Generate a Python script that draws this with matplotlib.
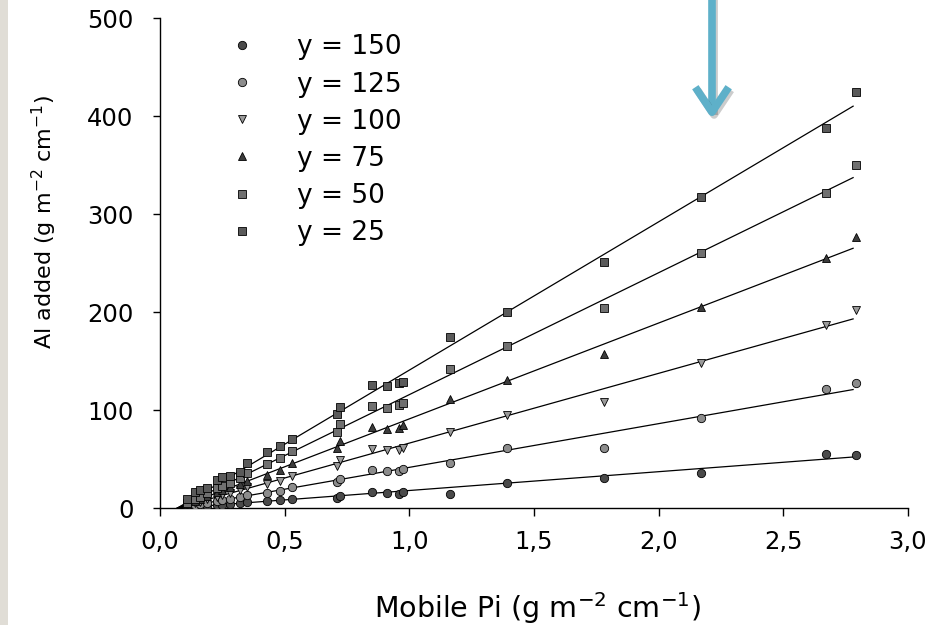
import numpy as np
import matplotlib
matplotlib.use("Agg")
import matplotlib.pyplot as plt
import matplotlib.patheffects as pe
from matplotlib.patches import Rectangle

plt.rcParams["font.family"] = ["DejaVu Sans"]
plt.rcParams["mathtext.default"] = "regular"

# Mobile Pi (g m-2 cm-1), shared by all series
mobile_pi = [0.11, 0.14, 0.16, 0.19, 0.23, 0.25, 0.28, 0.32, 0.35, 0.43, 0.48, 0.53,
             0.71, 0.72, 0.85, 0.91, 0.96, 0.975, 1.165, 1.39, 1.78, 2.17, 2.67, 2.79]

labels = ["y = 150", "y = 125", "y = 100", "y = 75", "y = 50", "y = 25"]

al_150 = [1, 1, 2, 2, 3, 3, 4, 5, 6, 7, 8, 9,
          10, 12, 16, 15, 14, 16, 14, 26, 31, 36, 55, 54]
al_125 = [2, 3, 4, 5, 7, 8, 9, 11, 13, 15, 17, 21,
          27, 30, 39, 38, 38, 40, 46, 61, 61, 92, 121, 128]
al_100 = [3, 5, 6, 9, 11, 13, 15, 18, 21, 25, 28, 33,
          43, 49, 60, 59, 59, 61, 78, 95, 108, 148, 187, 202]
al_75 = [4, 7, 9, 12, 16, 18, 21, 25, 28, 34, 39, 46,
         61, 68, 83, 81, 82, 85, 111, 131, 157, 205, 255, 277]
al_50 = [5, 9, 11, 15, 20, 22, 26, 31, 36, 45, 51, 58,
         78, 86, 104, 102, 105, 107, 142, 165, 204, 260, 321, 350]
al_25 = [9, 16, 18, 20, 29, 32, 33, 37, 46, 57, 63, 70,
         96, 103, 126, 124, 128, 129, 174, 200, 251, 317, 388, 424]

# fitted lines: y = slope * (x - x0)
slopes = [19.2, 44.6, 71.2, 97.8, 124.4, 151.3]
x0 = 0.07
x_end = 2.78

series = [al_150, al_125, al_100, al_75, al_50, al_25]
markers = ["o", "o", "v", "^", "s", "s"]
colors = ["#4a4a4a", "#8c8c8c", "#9a9a9a", "#3c3c3c", "#707070", "#5a5a5a"]
sizes = [6, 6, 6, 6, 5.5, 5.5]

fig = plt.figure(figsize=(9.37, 6.25), dpi=100)
ax = fig.add_axes([0.1708, 0.1872, 0.969 - 0.1708, 0.9712 - 0.1872])

fig.patches.append(Rectangle((0, 0), 8 / 937, 1, transform=fig.transFigure,
                             facecolor="#e0ddd6", edgecolor="none"))

xl = np.array([x0, x_end])
for vals, slope, m, c, s, lab in zip(series, slopes, markers, colors, sizes, labels):
    ax.plot(xl, slope * (xl - x0), color="black", lw=0.9, zorder=2)
    ax.plot(mobile_pi, vals, linestyle="none", marker=m, ms=s, mfc=c,
            mec="black", mew=0.6, label=lab, zorder=3)

ax.set_xlim(0, 3.0)
ax.set_ylim(0, 500)
ax.set_xticks(np.arange(0, 3.01, 0.5))
ax.set_xticklabels(["0,0", "0,5", "1,0", "1,5", "2,0", "2,5", "3,0"])
ax.set_yticks(np.arange(0, 501, 100))
ax.tick_params(axis="y", labelsize=17.5, length=5, width=1, pad=14)
ax.tick_params(axis="x", labelsize=17.5, length=6, width=1, pad=10)
for side in ["top", "right"]:
    ax.spines[side].set_visible(False)
for side in ["left", "bottom"]:
    ax.spines[side].set_linewidth(1.0)

ax.set_xlabel("Mobile Pi (g m$^{-2}$ cm$^{-1}$)", fontsize=20.5)
ax.xaxis.set_label_coords(0.505, -0.204)
ax.set_ylabel("Al added (g m$^{-2}$ cm$^{-1}$)", fontsize=16)
ax.yaxis.set_label_coords(-0.154, 0.584)
ax.xaxis.label.set_va("center")
ax.yaxis.label.set_va("center")

leg = ax.legend(loc="upper left", bbox_to_anchor=(0.0775, 0.988), frameon=False,
                fontsize=19, handlelength=1.0, handletextpad=1.6,
                labelspacing=0.42, borderaxespad=0)

# highlight arrow
ax.annotate("", xy=(2.214, 394), xytext=(2.214, 525),
            arrowprops=dict(arrowstyle="->,head_length=0.9,head_width=0.6",
                            mutation_scale=20, color="#5eb0c9", lw=5.5,
                            capstyle="butt",
                            path_effects=[pe.SimpleLineShadow(offset=(1.5, -2), alpha=0.2),
                                          pe.Normal()]),
            annotation_clip=False)

fig.savefig("out.png", dpi=100)
